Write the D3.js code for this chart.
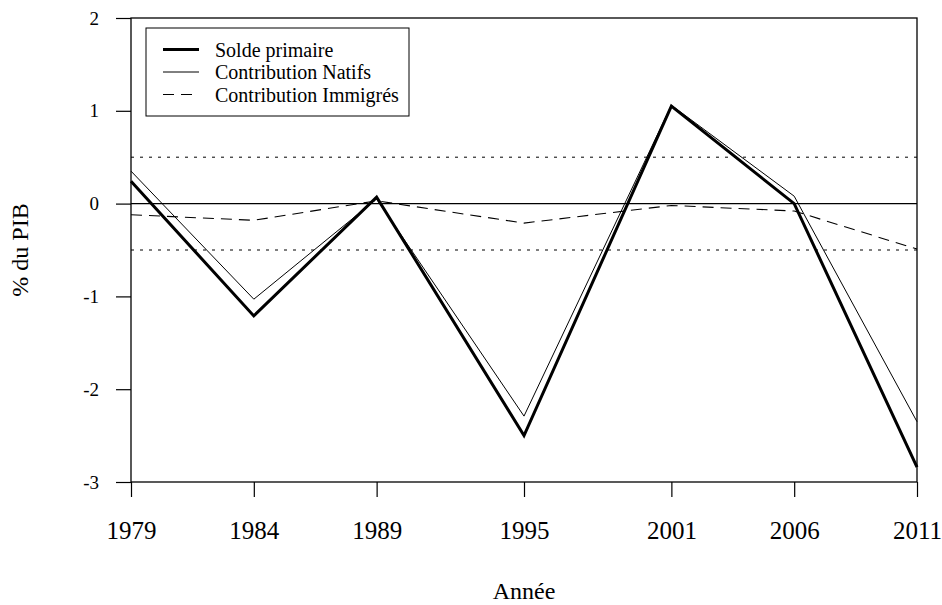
<html>
<head>
<meta charset="utf-8">
<script src="https://cdn.jsdelivr.net/npm/d3@7"></script>
<style>
body {
  margin: 0px;
  background-color: #ffffff;
}
svg text {
  font-family: "Liberation Serif", serif;
  fill: #000;
}
.xtick text { font-size: 25px; text-anchor: middle; }
.ytick text { font-size: 19px; text-anchor: end; }
.title text { font-size: 24px; text-anchor: middle; }
.legend text { font-size: 20px; text-anchor: start; }
</style>
</head>
<body>
<div class="target"></div>
<script>
// values (% du PIB)
var years = [1979, 1984, 1989, 1995, 2001, 2006, 2011];
var soldePrimaire = [0.24, -1.21, 0.07, -2.50, 1.05, 0.00, -2.84];
var contribNatifs = [0.35, -1.03, 0.05, -2.29, 1.06, 0.08, -2.35];
var contribImmigres = [-0.12, -0.18, 0.03, -0.21, -0.02, -0.08, -0.49];
var yTicks = [-3, -2, -1, 0, 1, 2];
var refLines = [0.5, -0.5];
var legendNames = ["Solde primaire", "Contribution Natifs", "Contribution Immigrés"];

drawChart('.target');

function drawChart(target) {
  'use strict';

  var margin = {top: 18, right: 25, bottom: 123, left: 131},
    width = 942 - margin.left - margin.right,
    height = 605 - margin.top - margin.bottom;

  var svg = d3.select(target)
    .append('svg')
      .attr("width", 942)
      .attr("height", 605)
    .append("g")
      .attr("transform", "translate(" + margin.left + "," + margin.top + ")");

  var x = d3.scaleLinear()
    .domain([1979, 2011])
    .range([0, width]);

  var y = d3.scaleLinear()
    .domain([-3, 2])
    .range([height, 0]);

  var series = [
    {name: legendNames[0], values: soldePrimaire, width: 3, dash: null},
    {name: legendNames[1], values: contribNatifs, width: 1, dash: null},
    {name: legendNames[2], values: contribImmigres, width: 1.1, dash: "11,7"}
  ];

  // reference lines
  svg.selectAll(".ref")
    .data(refLines)
    .enter()
    .append("line")
      .attr("class", "ref")
      .attr("x1", 0)
      .attr("x2", width)
      .attr("y1", function(d){ return y(d); })
      .attr("y2", function(d){ return y(d); })
      .attr("stroke", "#000")
      .attr("stroke-width", 1)
      .attr("stroke-dasharray", "3,6");

  svg.append("line")
    .attr("x1", 0)
    .attr("x2", width)
    .attr("y1", y(0))
    .attr("y2", y(0))
    .attr("stroke", "#000")
    .attr("stroke-width", 1.3);

  var line = d3.line()
    .x(function(d, i){ return x(years[i]); })
    .y(function(d){ return y(d); });

  svg.selectAll(".series")
    .data(series)
    .enter()
    .append("path")
      .attr("class", "series")
      .attr("d", function(s){ return line(s.values); })
      .attr("fill", "none")
      .attr("stroke", "#000")
      .attr("stroke-width", function(s){ return s.width; })
      .attr("stroke-dasharray", function(s){ return s.dash; })
      .attr("stroke-linejoin", "miter");

  // frame
  svg.append("rect")
    .attr("x", 0)
    .attr("y", 0)
    .attr("width", width)
    .attr("height", height)
    .attr("fill", "none")
    .attr("stroke", "#000")
    .attr("stroke-width", 1.3);

  // x axis
  var xAxis = d3.axisBottom(x)
    .tickValues(years)
    .tickFormat(d3.format("d"))
    .tickSize(15)
    .tickPadding(24);

  svg.append("g")
    .attr("class", "xtick")
    .attr("transform", "translate(0," + height + ")")
    .call(xAxis)
    .call(styleAxis);

  // y axis, labels with a plain hyphen as in the original
  var yAxis = d3.axisLeft(y)
    .tickValues(yTicks)
    .tickFormat(function(d){ return String(d); })
    .tickSize(15)
    .tickPadding(17);

  svg.append("g")
    .attr("class", "ytick")
    .call(yAxis)
    .call(styleAxis);

  // titles
  svg.append("g")
    .attr("class", "title")
    .append("text")
      .attr("x", width / 2)
      .attr("y", height + 117)
      .text("Année");

  svg.append("g")
    .attr("class", "title")
    .append("text")
      .attr("transform", "translate(" + (28 - margin.left) + "," + (height / 2) + ") rotate(-90)")
      .text("% du PIB");

  // legend
  var legend = svg.append("g")
    .attr("class", "legend")
    .attr("transform", "translate(15,10)");

  legend.append("rect")
    .attr("x", 0)
    .attr("y", 0)
    .attr("width", 263)
    .attr("height", 88)
    .attr("fill", "#fff")
    .attr("stroke", "#000")
    .attr("stroke-width", 1);

  var item = legend.selectAll(".item")
    .data(series)
    .enter()
    .append("g")
      .attr("class", "item")
      .attr("transform", function(d, i){ return "translate(0," + (21.5 + i * 22.5) + ")"; });

  item.append("line")
    .attr("x1", 17)
    .attr("x2", 53)
    .attr("y1", 0)
    .attr("y2", 0)
    .attr("stroke", "#000")
    .attr("stroke-width", function(s){ return s.width; })
    .attr("stroke-dasharray", function(s){ return s.dash; });

  item.append("text")
    .attr("x", 69)
    .attr("y", 7)
    .text(function(s){ return s.name; });

  function styleAxis(g) {
    g.select(".domain").remove();
    g.selectAll("line").attr("stroke", "#000").attr("stroke-width", 1.2);
    g.selectAll("text").attr("fill", "#000");
    g.attr("font-family", null).attr("font-size", null);
  }
}
</script>
</body>
</html>
